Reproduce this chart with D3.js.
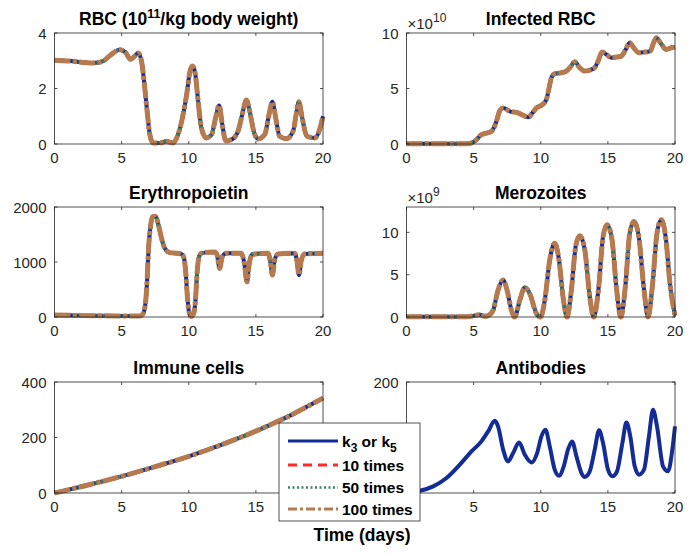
<!DOCTYPE html>
<html>
<head>
<meta charset="utf-8">
<script src="https://cdn.jsdelivr.net/npm/d3@7"></script>
<style>
  body { margin: 0; background: #fff; }
  text { font-family: "Liberation Sans", Arial, sans-serif; }
</style>
</head>
<body>
<script>
// values
const rbcT = [0,1.14,2.88,3.62,4.24,4.86,5.31,5.66,5.98,6.23,6.48,6.67,6.9,7.1,7.34,7.84,8.34,8.83,9.2,9.58,9.88,10.07,10.27,10.47,10.7,10.94,11.3,11.7,12.0,12.26,12.5,12.75,13.18,13.67,14.04,14.29,14.54,14.84,15.16,15.66,15.98,16.23,16.48,16.77,17.27,17.77,18.0,18.2,18.45,18.8,19.4,19.75,20];
const rbcV = [3.02,2.99,2.92,2.99,3.23,3.40,3.29,3.05,3.17,3.28,2.99,2.27,1.18,0.34,0.04,0.04,0.1,0.04,0.34,1.06,1.9,2.57,2.81,2.57,1.54,0.58,0.22,0.34,0.94,1.39,0.7,0.12,0.16,0.46,1.18,1.59,1.18,0.46,0.18,0.34,1.06,1.52,0.94,0.28,0.19,0.46,1.06,1.52,0.94,0.28,0.22,0.52,1.0];

const irbcT = [0,4.47,4.84,5.21,5.58,5.96,6.33,6.7,6.95,7.2,7.69,8.31,8.68,9.06,9.38,9.68,10.05,10.42,10.62,10.79,11.04,11.54,11.91,12.21,12.53,12.9,13.28,13.65,14.02,14.27,14.57,14.89,15.26,15.63,16.0,16.33,16.63,16.92,17.32,17.74,18.16,18.41,18.61,18.91,19.35,19.73,20];
const irbcV = [0.03,0.03,0.09,0.39,0.84,0.99,1.14,2.05,3.01,3.25,2.95,2.8,2.59,2.41,2.8,3.25,3.49,4.0,5.06,5.96,6.33,6.42,6.57,6.93,7.41,6.87,6.57,6.66,6.87,7.47,8.28,8.07,7.77,7.83,7.92,8.52,9.13,8.67,8.22,8.28,8.37,9.13,9.58,9.13,8.52,8.67,8.73];

const epoT = [0,2.13,4.6,6.35,6.6,6.8,6.9,7.0,7.15,7.34,7.54,7.74,7.97,8.21,8.59,9.08,9.45,9.65,9.78,9.9,10.02,10.2,10.37,10.5,10.62,10.74,10.94,11.44,11.94,12.11,12.3,12.5,12.8,13.9,14.12,14.34,14.49,14.74,15.9,16.08,16.23,16.4,16.65,17.89,18.07,18.21,18.39,18.64,20];
const epoV = [37,25,20,20,61,305,671,1220,1646,1829,1829,1677,1433,1250,1171,1159,1146,1067,793,366,91,12,61,305,793,1067,1159,1177,1183,1128,884,1098,1159,1159,1006,640,945,1140,1159,1006,762,1037,1146,1159,1006,762,1037,1146,1159];

const merT = [0,4.47,4.96,5.46,5.83,6.08,6.45,6.82,7.2,7.49,7.82,8.06,8.44,8.81,9.18,9.68,9.98,10.3,10.67,11.04,11.36,11.66,11.96,12.28,12.6,12.9,13.28,13.65,13.95,14.32,14.64,14.94,15.31,15.63,15.96,16.3,16.63,16.95,17.3,17.67,17.99,18.31,18.66,18.98,19.3,19.65,20];
const merV = [0.02,0.04,0.12,0.28,0.08,0.16,0.79,3.17,4.36,3.17,0.79,0,1.98,3.49,2.77,0.4,0,1.98,6.74,8.72,6.74,2.38,0,3.17,8.32,9.59,7.93,2.38,0,3.57,9.51,10.9,9.12,3.57,0,3.57,9.91,11.3,9.51,3.57,0,3.57,9.91,11.5,9.51,3.57,0.2];

const immT = [0,2.5,5,7.5,10,12.5,15,17.5,20];
const immV = [0,29,60,95,132,175,223,278,342];

const abT = [0,1.0,1.99,2.98,3.97,4.84,5.58,6.08,6.58,6.82,7.2,7.57,7.94,8.39,8.81,9.31,9.73,10.05,10.35,10.67,11.04,11.36,11.71,12.03,12.33,12.66,13.03,13.28,13.65,14.02,14.34,14.64,15.01,15.34,15.68,16.08,16.38,16.67,17.0,17.32,17.69,18.06,18.36,18.66,19.11,19.48,19.8,20];
const abV = [0,4,12,27,51,75,93,111,130,120,78,57,72,91,69,55,72,102,114,84,42,31,48,78,93,66,36,29,39,78,113,90,42,30,39,90,127,102,48,33,42,102,150,120,48,39,78,120];

const xTicks = [0,5,10,15,20];
const seriesNames = ["k3 or k5", "10 times", "50 times", "100 times"];

// hideX / hideY: tick labels that sit under the legend in the original
const panels = [
  {title: "RBC", t: rbcT, v: rbcV, ymax: 4, ticks: [0,2,4], col: 0, row: 0},
  {title: "Infected RBC", t: irbcT, v: irbcV, ymax: 10, ticks: [0,5,10], col: 1, row: 0, exp: "10"},
  {title: "Erythropoietin", t: epoT, v: epoV, ymax: 2000, ticks: [0,1000,2000], col: 0, row: 1},
  {title: "Merozoites", t: merT, v: merV, ymax: 13, ticks: [0,5,10], col: 1, row: 1, exp: "9"},
  {title: "Immune cells", t: immT, v: immV, ymax: 400, ticks: [0,200,400], col: 0, row: 2, hideX: [20]},
  {title: "Antibodies", t: abT, v: abV, ymax: 200, ticks: [0,200], col: 1, row: 2, onlyFirst: true, hideX: [0], hideY: [0]}
];

const W = 698, H = 556;
const cols = [[54.5, 323], [406.5, 675]];
const rows = [[33, 144], [207, 317], [382, 493]];
const axisColor = "#262626";

// drawing order: red under, then blue, green dots, brown dash-dot on top
const styles = [
  {key: 1, color: "#ff2a2a", width: 3, dash: "9,6"},
  {key: 0, color: "#142c96", width: 4, dash: null},
  {key: 2, color: "#3e7f5e", width: 4, dash: "2,4"},
  {key: 3, color: "#b77a4e", width: 5, dash: "16,2.5,4,2.5"}
];

const svg = d3.select("body").append("svg")
  .attr("width", W).attr("height", H);

panels.forEach(p => {
  const [x0, x1] = cols[p.col], [y0, y1] = rows[p.row];
  const x = d3.scaleLinear().domain([0, 20]).range([x0, x1]);
  const y = d3.scaleLinear().domain([0, p.ymax]).range([y1, y0]);
  const g = svg.append("g");

  const line = d3.line()
    .x((d, i) => x(p.t[i]))
    .y(d => y(d))
    .curve(d3.curveMonotoneX);

  const use = p.onlyFirst ? styles.filter(s => s.key === 0) : styles;
  use.forEach(s => {
    g.append("path")
      .attr("d", line(p.v))
      .attr("fill", "none")
      .attr("stroke", s.color)
      .attr("stroke-width", s.width)
      .attr("stroke-linejoin", "round")
      .attr("stroke-dasharray", s.dash);
  });

  // box with inward ticks
  g.append("rect")
    .attr("x", x0).attr("y", y0)
    .attr("width", x1 - x0).attr("height", y1 - y0)
    .attr("fill", "none").attr("stroke", axisColor).attr("stroke-width", 0.8);

  const tl = 3;
  xTicks.forEach(v => {
    g.append("line").attr("x1", x(v)).attr("x2", x(v)).attr("y1", y1).attr("y2", y1 - tl)
      .attr("stroke", axisColor).attr("stroke-width", 0.8);
    g.append("line").attr("x1", x(v)).attr("x2", x(v)).attr("y1", y0).attr("y2", y0 + tl)
      .attr("stroke", axisColor).attr("stroke-width", 0.8);
    if (p.hideX && p.hideX.includes(v)) return;
    g.append("text").attr("x", x(v)).attr("y", y1 + 19)
      .attr("text-anchor", "middle").attr("font-size", 15).attr("fill", axisColor)
      .text(v);
  });
  p.ticks.forEach(v => {
    g.append("line").attr("x1", x0).attr("x2", x0 + tl).attr("y1", y(v)).attr("y2", y(v))
      .attr("stroke", axisColor).attr("stroke-width", 0.8);
    g.append("line").attr("x1", x1).attr("x2", x1 - tl).attr("y1", y(v)).attr("y2", y(v))
      .attr("stroke", axisColor).attr("stroke-width", 0.8);
    if (p.hideY && p.hideY.includes(v)) return;
    g.append("text").attr("x", x0 - 8).attr("y", y(v) + 5.5)
      .attr("text-anchor", "end").attr("font-size", 15).attr("fill", axisColor)
      .text(v);
  });

  // title
  const tt = g.append("text")
    .attr("x", (x0 + x1) / 2).attr("y", y0 - 8)
    .attr("text-anchor", "middle").attr("font-size", 17.5).attr("font-weight", "bold")
    .attr("fill", "#000");
  if (p.title === "RBC") {
    tt.append("tspan").text("RBC (10");
    tt.append("tspan").attr("dy", -7).attr("font-size", 12.5).text("11");
    tt.append("tspan").attr("dy", 7).text("/kg body weight)");
  } else {
    tt.text(p.title);
  }

  if (p.exp) {
    const et = g.append("text").attr("x", x0 + 1).attr("y", y0 - 4)
      .attr("font-size", 15).attr("fill", axisColor);
    et.append("tspan").text("\u00d710");
    et.append("tspan").attr("dy", -7).attr("font-size", 12).text(p.exp);
  }
});

// x label
svg.append("text")
  .attr("x", 362).attr("y", 541)
  .attr("text-anchor", "middle").attr("font-size", 17.5).attr("font-weight", "bold")
  .text("Time (days)");

// legend
const lg = svg.append("g");
lg.append("rect")
  .attr("x", 279).attr("y", 423).attr("width", 141).attr("height", 98)
  .attr("fill", "#fff").attr("stroke", axisColor).attr("stroke-width", 0.8);
const rowY = [441, 465, 487.5, 509];
const legendStyles = [
  {color: "#142c96", width: 3, dash: null},
  {color: "#ff2a2a", width: 3, dash: "9,6"},
  {color: "#3e7f5e", width: 2.5, dash: "2,2.5"},
  {color: "#b77a4e", width: 3, dash: "9,3,3,3"}
];
seriesNames.forEach((name, i) => {
  const s = legendStyles[i];
  lg.append("line")
    .attr("x1", 288).attr("x2", 338).attr("y1", rowY[i]).attr("y2", rowY[i])
    .attr("stroke", s.color).attr("stroke-width", s.width)
    .attr("stroke-dasharray", s.dash);
  const t = lg.append("text").attr("x", 342).attr("y", rowY[i] + 5.5)
    .attr("font-size", 15.5).attr("font-weight", "bold").attr("fill", "#000");
  if (i === 0) {
    t.append("tspan").text("k");
    t.append("tspan").attr("dy", 5).attr("font-size", 12).text("3");
    t.append("tspan").attr("dy", -5).text(" or k");
    t.append("tspan").attr("dy", 5).attr("font-size", 12).text("5");
  } else {
    t.text(name);
  }
});
</script>
</body>
</html>
